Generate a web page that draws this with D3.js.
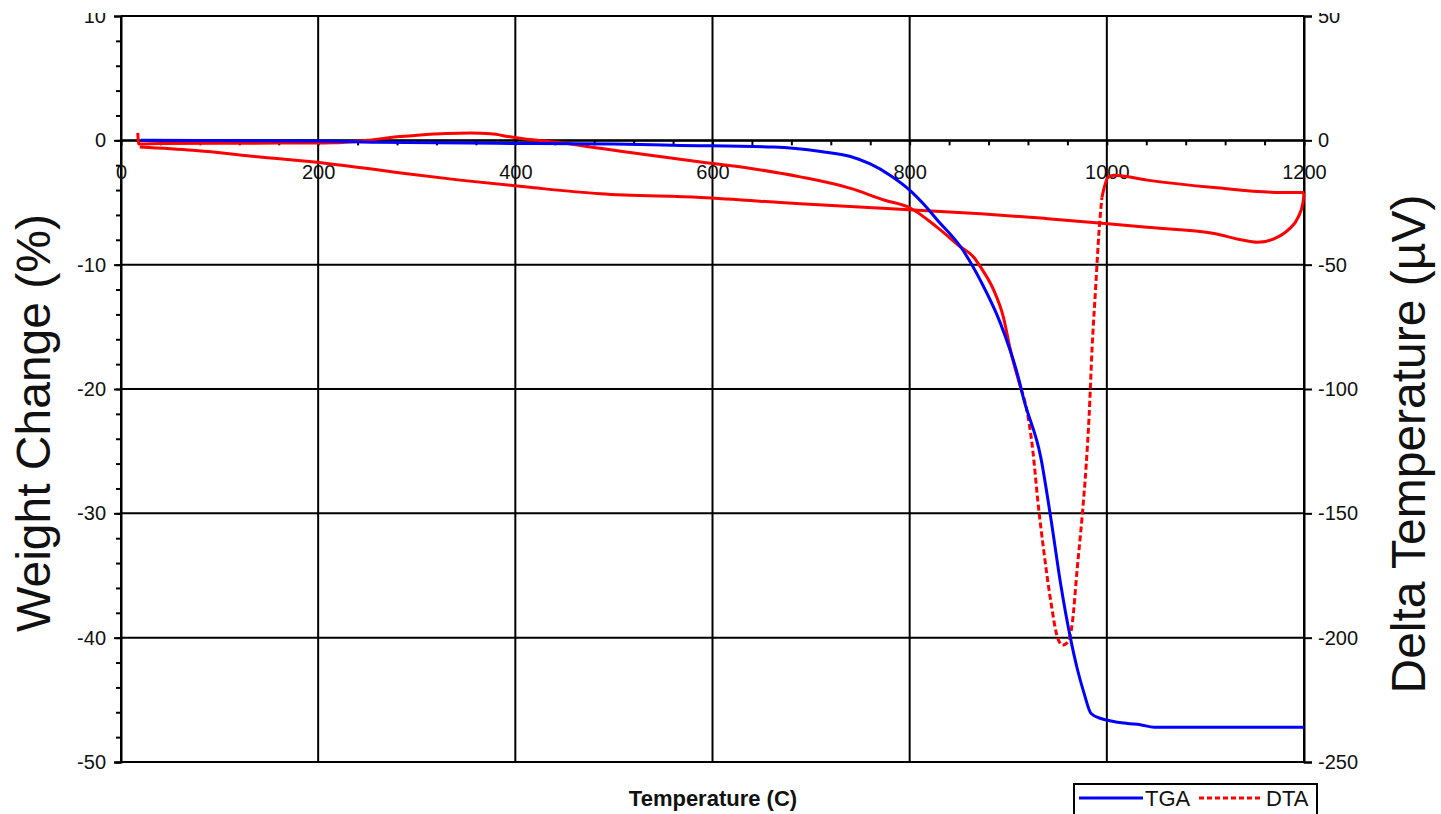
<!DOCTYPE html>
<html>
<head>
<meta charset="utf-8">
<script src="https://cdn.jsdelivr.net/npm/d3@7"></script>
<style>
  body { margin: 0; background: #fff; }
  svg { display: block; }
  text { font-family: "Liberation Sans", Arial, sans-serif; fill: #111; }
</style>
</head>
<body>
<div id="chart"></div>
<script>
// TGA: weight change (%) against temperature (C)
const tgaTemp   = [20, 200, 260, 400, 500, 560, 662, 710, 740, 760, 780, 800, 815, 828, 852, 872, 892, 910, 916, 933, 943, 953, 963, 970, 977, 984, 994, 1004, 1021, 1034, 1048, 1100, 1200];
const tgaWeight = [0, -0.05, -0.15, -0.25, -0.3, -0.4, -0.54, -0.9, -1.3, -1.9, -2.8, -4.0, -5.2, -6.4, -8.6, -11.3, -14.7, -19.0, -20.9, -25.5, -30.3, -35.6, -40.0, -42.5, -44.5, -46.1, -46.5, -46.7, -46.9, -47.0, -47.2, -47.2, -47.2];

// DTA heating branch (uV)
const dtaHeatTemp = [17, 18, 40, 100, 160, 215, 250, 280, 300, 330, 355, 375, 395, 415, 440, 486, 537, 588, 639, 689, 740, 774, 801, 828, 852, 865, 872, 885, 895, 902, 913, 920, 925, 930, 936, 943, 950, 955, 960, 965, 970, 975, 979, 982, 985, 989, 992, 995, 1001, 1007, 1041, 1109, 1177, 1200];
const dtaHeatUv   = [3, -1.5, -1.3, -1.2, -1.1, -1.0, 0, 1.4, 2.0, 2.7, 2.9, 2.6, 1.4, 0.3, -0.7, -3.2, -6, -8.7, -11.3, -14.7, -19.3, -24, -27.3, -35, -43, -47, -51, -60, -71, -84, -100, -111, -125, -145, -165, -185, -200, -203, -202, -194, -172, -151, -131, -111, -84, -57, -37, -23, -15, -14, -16, -19, -21, -21];

// DTA cooling branch (uV), listed by rising temperature
const dtaCoolTemp = [19, 73, 141, 209, 276, 344, 412, 486, 588, 689, 804, 872, 940, 1001, 1041, 1109, 1136, 1153, 1170, 1184, 1194, 1199, 1200];
const dtaCoolUv   = [-2.7, -4, -6.7, -9.3, -12.7, -16, -18.8, -21.5, -23, -25.5, -28, -29.5, -31.5, -33.5, -35, -37.5, -40, -41, -39.5, -36, -31, -25, -21];

const xTicks = [0, 200, 400, 600, 800, 1000, 1200];
const leftTicks = [10, 0, -10, -20, -30, -40, -50];
const rightTicks = [50, 0, -50, -100, -150, -200, -250];

// where the DTA trace shows as dotted (steep endotherm)
const dottedRange = [913, 995];

const W = 1441, H = 814;
const plot = {left: 121, right: 1304, top: 16, bottom: 762};

const svg = d3.select("#chart").append("svg")
    .attr("width", W)
    .attr("height", H);

const x = d3.scaleLinear().domain([0, 1200]).range([plot.left, plot.right]);
const yL = d3.scaleLinear().domain([-50, 10]).range([plot.bottom, plot.top]);
const yR = d3.scaleLinear().domain([-250, 50]).range([plot.bottom, plot.top]);

const plain = d => String(d);

// Grid (also forms the frame)
svg.append("g").selectAll("line")
    .data(xTicks)
    .join("line")
    .attr("x1", d => x(d)).attr("x2", d => x(d))
    .attr("y1", plot.top).attr("y2", plot.bottom)
    .attr("stroke", "#000").attr("stroke-width", 2);

svg.append("g").selectAll("line")
    .data(leftTicks)
    .join("line")
    .attr("x1", plot.left).attr("x2", plot.right)
    .attr("y1", d => yL(d)).attr("y2", d => yL(d))
    .attr("stroke", "#000").attr("stroke-width", 2);

// Left axis
const leftAxis = svg.append("g")
    .attr("transform", `translate(${plot.left},0)`)
    .call(d3.axisLeft(yL).tickValues(leftTicks).tickFormat(plain).tickSize(7).tickPadding(8));
svg.append("g")
    .attr("transform", `translate(${plot.left},0)`)
    .call(d3.axisLeft(yL).tickValues(d3.range(-50, 10, 2)).tickSize(5).tickFormat(""))
    .call(g => g.select(".domain").remove());

// Right axis
const rightAxis = svg.append("g")
    .attr("transform", `translate(${plot.right},0)`)
    .call(d3.axisRight(yR).tickValues(rightTicks).tickFormat(plain).tickSize(8).tickPadding(6));

// X axis sits on the zero line
const xAxis = svg.append("g")
    .attr("transform", `translate(0,${yL(0)})`)
    .call(d3.axisBottom(x).tickValues(xTicks).tickFormat(plain).tickSize(0).tickPadding(24));
svg.append("g")
    .attr("transform", `translate(0,${yL(0)})`)
    .call(d3.axisBottom(x).tickValues(d3.range(0, 1201, 40)).tickSize(5).tickFormat(""))
    .call(g => g.select(".domain").remove());

svg.selectAll(".domain, .tick line")
    .attr("stroke", "#000")
    .attr("stroke-width", 2);

[leftAxis, rightAxis, xAxis].forEach(a => a.selectAll("text")
    .style("font-size", "20px")
    .style("font-family", "'Liberation Sans', Arial, sans-serif")
    .attr("fill", "#111"));

// Series
const tga = tgaTemp.map((t, i) => ({t, v: tgaWeight[i]}));
const heat = dtaHeatTemp.map((t, i) => ({t, v: dtaHeatUv[i]}));
const cool = dtaCoolTemp.map((t, i) => ({t, v: dtaCoolUv[i]}));

const lineL = d3.line().x(d => x(d.t)).y(d => yL(d.v)).curve(d3.curveMonotoneX);
const lineR = d3.line().x(d => x(d.t)).y(d => yR(d.v)).curve(d3.curveMonotoneX);

const heatBefore = heat.filter(d => d.t <= dottedRange[0]);
const heatDotted = heat.filter(d => d.t >= dottedRange[0] && d.t <= dottedRange[1]);
const heatAfter = heat.filter(d => d.t >= dottedRange[1]);

[cool, heatBefore, heatAfter].forEach(seg => {
    svg.append("path")
        .datum(seg)
        .attr("fill", "none")
        .attr("stroke", "#ff0000")
        .attr("stroke-width", 3)
        .attr("d", lineR);
});

svg.append("path")
    .datum(heatDotted)
    .attr("fill", "none")
    .attr("stroke", "#ff0000")
    .attr("stroke-width", 3)
    .attr("stroke-dasharray", "6,3")
    .attr("d", lineR);

svg.append("path")
    .datum(tga)
    .attr("fill", "none")
    .attr("stroke", "#0000ff")
    .attr("stroke-width", 3)
    .attr("d", lineL);

// Axis titles
svg.append("text")
    .attr("transform", "translate(50,423) rotate(-90)")
    .attr("text-anchor", "middle")
    .style("font-size", "48px")
    .text("Weight Change (%)");

svg.append("text")
    .attr("transform", "translate(1425,444) rotate(-90)")
    .attr("text-anchor", "middle")
    .style("font-size", "48px")
    .text("Delta Temperature (µV)");

svg.append("text")
    .attr("x", 713)
    .attr("y", 806)
    .attr("text-anchor", "middle")
    .style("font-size", "22px")
    .style("font-weight", "bold")
    .text("Temperature (C)");

// Legend
const legend = svg.append("g");
legend.append("rect")
    .attr("x", 1074).attr("y", 784)
    .attr("width", 243).attr("height", 40)
    .attr("fill", "#fff")
    .attr("stroke", "#000")
    .attr("stroke-width", 2);
legend.append("line")
    .attr("x1", 1079).attr("x2", 1143)
    .attr("y1", 798).attr("y2", 798)
    .attr("stroke", "#0000ff").attr("stroke-width", 3);
legend.append("text")
    .attr("x", 1145).attr("y", 806)
    .style("font-size", "22px")
    .text("TGA");
legend.append("line")
    .attr("x1", 1199).attr("x2", 1263)
    .attr("y1", 798).attr("y2", 798)
    .attr("stroke", "#ff0000").attr("stroke-width", 3)
    .attr("stroke-dasharray", "5,3");
legend.append("text")
    .attr("x", 1266).attr("y", 806)
    .style("font-size", "22px")
    .text("DTA");

// the source image is cropped just above the top labels
svg.append("rect")
    .attr("x", 0).attr("y", 0)
    .attr("width", W).attr("height", 13)
    .attr("fill", "#fff");
</script>
</body>
</html>
